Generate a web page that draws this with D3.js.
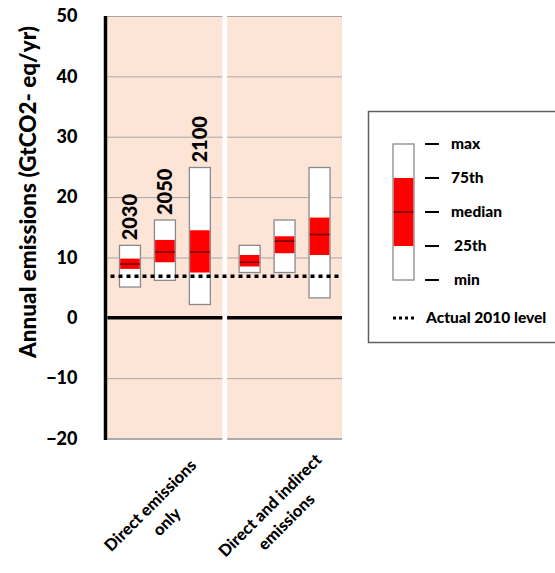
<!DOCTYPE html>
<html lang="en">
<head>
<meta charset="UTF-8">
<title>annual emissions</title>
<style>
  body { margin: 0; background: #fff; }
  svg text { font-family: Lato, "DejaVu Sans", sans-serif; font-weight: 900; fill: #000; }
</style>
</head>
<body>
<div class="chart"></div>
<script src="https://cdnjs.cloudflare.com/ajax/libs/d3/7.8.5/d3.min.js"></script>
<script>
const categories = ['Direct emissions only', 'Direct and indirect emissions'];
const categoryLines = [['Direct emissions', 'only'], ['Direct and indirect', 'emissions']];
const years = ['2030', '2050', '2100'];
// [min, 25th, median, 75th, max] for each year
const directOnly = [[5.1, 8.1, 8.9, 9.8, 12.0], [6.2, 9.2, 10.9, 12.9, 16.2], [2.2, 7.5, 10.9, 14.5, 24.9]];
const directIndirect = [[7.5, 8.5, 9.2, 10.4, 12.0], [7.5, 10.7, 12.7, 13.5, 16.2], [3.3, 10.4, 13.8, 16.6, 24.9]];
const actual2010 = 6.9;
const yTicks = [-20, -10, 0, 10, 20, 30, 40, 50];
const legendLabels = ['max', '75th', 'median', '25th', 'min'];

const width = 555, height = 573;

const svg = d3.select('.chart').append('svg')
  .attr('width', width)
  .attr('height', height);

const y = d3.scaleLinear().domain([-20, 50]).range([438.5, 16]);
const x = d3.scaleBand().domain(categories).range([107.5, 342]).paddingInner(0.04);
const xi = d3.scaleBand().domain(years).range([0, x.bandwidth()]).paddingInner(0.4).paddingOuter(0.343);

const series = [directOnly, directIndirect];

// panels
svg.selectAll('.panel').data(categories).join('rect')
  .attr('x', d => x(d))
  .attr('y', y(50))
  .attr('width', x.bandwidth())
  .attr('height', y(-20) - y(50))
  .attr('fill', '#fce4d6');

// gridlines
categories.forEach(c => {
  svg.append('g').selectAll('line').data(yTicks.filter(t => t !== 0)).join('line')
    .attr('x1', x(c)).attr('x2', x(c) + x.bandwidth())
    .attr('y1', d => y(d) + 0.5).attr('y2', d => y(d) + 0.5)
    .attr('stroke', d => d === -20 ? '#909090' : '#a8a8a8')
    .attr('stroke-width', d => d === -20 ? 1.5 : 1);
});

// boxes
const boxes = [];
series.forEach((s, ci) => s.forEach((v, yi) => boxes.push({ cat: categories[ci], year: years[yi], v })));

const bx = d => x(d.cat) + xi(d.year);
svg.append('g').selectAll('rect').data(boxes).join('rect')
  .attr('x', bx)
  .attr('y', d => y(d.v[4]))
  .attr('width', xi.bandwidth())
  .attr('height', d => y(d.v[0]) - y(d.v[4]))
  .attr('fill', '#fff')
  .attr('stroke', '#8a8a8a')
  .attr('stroke-width', 1.3);

svg.append('g').selectAll('rect').data(boxes).join('rect')
  .attr('x', d => bx(d) + 0.7)
  .attr('y', d => y(d.v[3]))
  .attr('width', xi.bandwidth() - 1.4)
  .attr('height', d => y(d.v[1]) - y(d.v[3]))
  .attr('fill', '#ff0000');

svg.append('g').selectAll('line').data(boxes).join('line')
  .attr('x1', d => bx(d) + 0.7)
  .attr('x2', d => bx(d) + xi.bandwidth() - 0.7)
  .attr('y1', d => y(d.v[2])).attr('y2', d => y(d.v[2]))
  .attr('stroke', '#6b0000')
  .attr('stroke-width', 1.5);

// zero line
svg.append('g').selectAll('line').data(categories).join('line')
  .attr('x1', d => x(d)).attr('x2', d => x(d) + x.bandwidth())
  .attr('y1', y(0)).attr('y2', y(0))
  .attr('stroke', '#000')
  .attr('stroke-width', 3.5);

// actual 2010 level
svg.append('line')
  .attr('x1', x(categories[0]) + 3)
  .attr('x2', x(categories[1]) + x.bandwidth())
  .attr('y1', y(actual2010)).attr('y2', y(actual2010))
  .attr('stroke', '#000')
  .attr('stroke-width', 3.5)
  .attr('stroke-dasharray', '4,4');

// left axis line
svg.append('line')
  .attr('x1', 105.5).attr('x2', 105.5)
  .attr('y1', y(50)).attr('y2', y(-20) + 1.5)
  .attr('stroke', '#000')
  .attr('stroke-width', 3.5);

// year labels over first panel
svg.append('g').selectAll('text').data(boxes.filter(d => d.cat === categories[0])).join('text')
  .attr('transform', d => `translate(${bx(d) + xi.bandwidth() / 2},${y(d.v[4]) - 5}) rotate(-90)`)
  .attr('dy', '0.36em')
  .style('font-size', '20px')
  .text(d => d.year);

// y axis
const yAxis = svg.append('g')
  .attr('transform', 'translate(105.5,0)')
  .call(d3.axisLeft(y).tickValues(yTicks).tickSize(0).tickPadding(28));
yAxis.select('.domain').remove();
yAxis.selectAll('text')
  .style('font-size', '18px')
  .style('font-family', 'Lato, sans-serif')
  .style('font-weight', '900')
  .attr('fill', '#000');

svg.append('text')
  .attr('transform', 'translate(28,192) rotate(-90)')
  .attr('text-anchor', 'middle')
  .attr('dy', '0.35em')
  .style('font-size', '22.5px')
  .text('Annual emissions (GtCO2- eq/yr)');

// category labels
categories.forEach((c, i) => {
  const t = svg.append('text')
    .attr('transform', `translate(${x(c) + x.bandwidth() / 2 - 7},513) rotate(-45)`)
    .attr('text-anchor', 'middle')
    .style('font-size', '16.5px');
  categoryLines[i].forEach((line, j) => {
    t.append('tspan').attr('x', 0).attr('y', j === 0 ? -5 : 18).text(line);
  });
});

// legend
const lg = svg.append('g');
lg.append('rect')
  .attr('x', 368.5).attr('y', 111.5)
  .attr('width', 220).attr('height', 231)
  .attr('fill', '#fff')
  .attr('stroke', '#606060')
  .attr('stroke-width', 1.5);

const ly = d3.scalePoint().domain(legendLabels).range([144, 280]);
lg.append('rect')
  .attr('x', 393).attr('y', ly('max'))
  .attr('width', 21).attr('height', ly('min') - ly('max'))
  .attr('fill', '#fff').attr('stroke', '#8a8a8a').attr('stroke-width', 1.3);
lg.append('rect')
  .attr('x', 393.7).attr('y', ly('75th'))
  .attr('width', 19.6).attr('height', ly('25th') - ly('75th'))
  .attr('fill', '#ff0000');
lg.append('line')
  .attr('x1', 393.7).attr('x2', 413.3)
  .attr('y1', ly('median')).attr('y2', ly('median'))
  .attr('stroke', '#6b0000').attr('stroke-width', 1.5);

lg.selectAll('.dash').data(legendLabels).join('line')
  .attr('x1', 425).attr('x2', 439)
  .attr('y1', d => ly(d)).attr('y2', d => ly(d))
  .attr('stroke', '#000').attr('stroke-width', 2);
lg.selectAll('.lab').data(legendLabels).join('text')
  .attr('x', d => d === '25th' || d === 'min' ? 454 : 451)
  .attr('y', d => ly(d))
  .attr('dy', '0.35em')
  .style('font-size', '15.5px')
  .text(d => d);

lg.append('line')
  .attr('x1', 393).attr('x2', 416)
  .attr('y1', 318).attr('y2', 318)
  .attr('stroke', '#000').attr('stroke-width', 3)
  .attr('stroke-dasharray', '3,3');
lg.append('text')
  .attr('x', 426).attr('y', 318)
  .attr('dy', '0.35em')
  .style('font-size', '15.5px')
  .text('Actual 2010 level');
</script>
</body>
</html>
